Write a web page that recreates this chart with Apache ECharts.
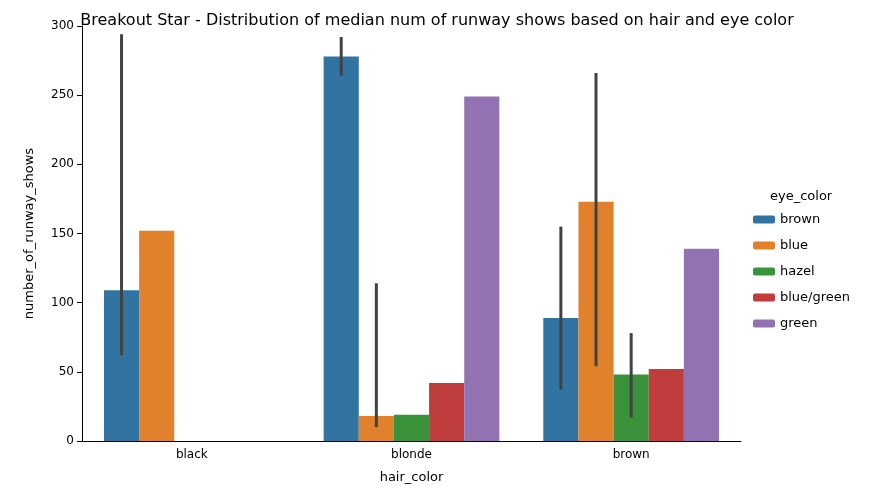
<!DOCTYPE html>
<html>
<head>
<meta charset="utf-8">
<script src="https://cdn.jsdelivr.net/npm/echarts@6/dist/echarts.min.js"></script>
<style>html,body{margin:0;padding:0;background:#fff}</style>
</head>
<body>
<div id="main" style="width:874px;height:500px"></div>
<script>
var hairColors = ['black', 'blonde', 'brown'];
var eyeColors = ['brown', 'blue', 'hazel', 'blue/green', 'green'];
var colors = ['#3274a1', '#e1812c', '#3a923a', '#c03d3e', '#9372b2'];
// median values per eye color, one entry per hair color
var brownVals = [109, 278, 89];
var blueVals = [152, 18, 173];
var hazelVals = [null, 19, 48];
var blueGreenVals = [null, 42, 52];
var greenVals = [null, 249, 139];
// error bars [hair index, eye index, low, high]
var errBars = [
    [0, 0, 62, 294],
    [1, 0, 264, 292],
    [1, 1, 10, 114],
    [2, 0, 37, 155],
    [2, 1, 54, 266],
    [2, 2, 17, 78]
];
var allVals = [brownVals, blueVals, hazelVals, blueGreenVals, greenVals];

var myChart = echarts.init(document.getElementById('main'));
var font = 'DejaVu Sans';
var series = [];
for (var i = 0; i < eyeColors.length; i++) {
    series.push({
        name: eyeColors[i],
        type: 'bar',
        data: allVals[i].map(function (v) { return v == null ? '-' : v; }),
        itemStyle: { color: colors[i] },
        barGap: '0%',
        barCategoryGap: '20%'
    });
}
series.push({
    type: 'custom',
    clip: true,
    z: 10,
    data: errBars,
    encode: { x: 0, y: [2, 3] },
    renderItem: function (params, api) {
        var cat = api.value(0), k = api.value(1);
        var bw = api.size([1, 0])[0] * 0.8 / 5;
        var p1 = api.coord([cat, api.value(2)]);
        var p2 = api.coord([cat, api.value(3)]);
        var x = p1[0] + (k - 2) * bw;
        return {
            type: 'line',
            shape: { x1: x, y1: p1[1], x2: x, y2: p2[1] },
            style: { stroke: '#424242', lineWidth: 3 }
        };
    }
});

option = {
    animation: false,
    title: {
        text: 'Breakout Star - Distribution of median num of runway shows based on hair and eye color',
        left: 'center',
        top: 8,
        textStyle: { fontFamily: font, fontSize: 16, fontWeight: 'normal', color: '#000' }
    },
    grid: { left: 82, right: 133, top: 26, bottom: 59 },
    legend: {
        orient: 'vertical',
        left: 748,
        top: 208,
        itemWidth: 22,
        itemHeight: 8,
        itemGap: 13,
        data: eyeColors,
        textStyle: { fontFamily: font, fontSize: 13, color: '#000' }
    },
    graphic: [{
        type: 'text',
        left: 770,
        top: 190,
        style: { text: 'eye_color', font: '13px DejaVu Sans', fill: '#000' }
    }],
    xAxis: {
        type: 'category',
        data: hairColors,
        name: 'hair_color',
        nameLocation: 'middle',
        nameGap: 30,
        nameTextStyle: { fontFamily: font, fontSize: 13, color: '#000' },
        axisLine: { lineStyle: { color: '#000' } },
        axisTick: { alignWithLabel: true, lineStyle: { color: '#000' } },
        axisLabel: { fontFamily: font, fontSize: 12, color: '#000' }
    },
    yAxis: {
        type: 'value',
        min: 0,
        max: 300,
        interval: 50,
        name: 'number_of_runway_shows',
        nameLocation: 'middle',
        nameGap: 46,
        nameTextStyle: { fontFamily: font, fontSize: 13, color: '#000' },
        splitLine: { show: false },
        axisLine: { show: true, lineStyle: { color: '#000' } },
        axisTick: { show: true, lineStyle: { color: '#000' } },
        axisLabel: { fontFamily: font, fontSize: 12, color: '#000' }
    },
    series: series
};
myChart.setOption(option);
</script>
</body>
</html>
